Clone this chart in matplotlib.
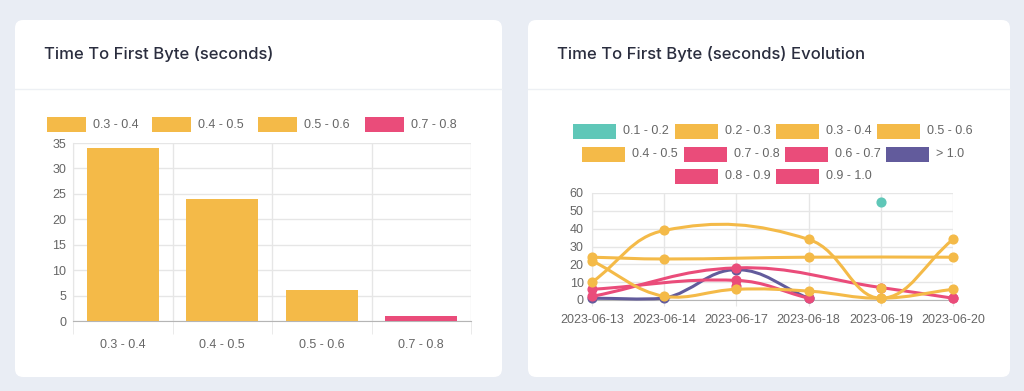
import matplotlib.pyplot as plt
from matplotlib.patches import FancyBboxPatch, Rectangle, PathPatch
from matplotlib.path import Path
import numpy as np

plt.rcParams.update({'font.family': ['Liberation Sans', 'DejaVu Sans']})

# Data
bar_labels = ['0.3 - 0.4', '0.4 - 0.5', '0.5 - 0.6', '0.7 - 0.8']
bar_values = [34, 24, 6, 1]

dates = ['2023-06-13', '2023-06-14', '2023-06-17', '2023-06-18', '2023-06-19', '2023-06-20']
series_names = ['0.1 - 0.2', '0.2 - 0.3', '0.3 - 0.4', '0.5 - 0.6', '0.4 - 0.5',
                '0.7 - 0.8', '0.6 - 0.7', '> 1.0', '0.8 - 0.9', '0.9 - 1.0']
s_01_02 = [None, None, None, None, 55, None]
s_02_03 = [10, 39, None, 34, 1, 34]
s_03_04 = [24, 23, None, 24, None, 24]
s_05_06 = [22, 2, 6, 5, 1, 6]
s_04_05 = [None, None, None, None, 7, None]
s_07_08 = [6, None, 11, 1, None, None]
s_06_07 = [2, None, 18, None, 7, 1]
s_gt_10 = [1, 1, 17, 1, None, None]
s_08_09 = [None, None, 8, None, None, None]
s_09_10 = [None, None, None, None, None, 1]
series_values = [s_01_02, s_02_03, s_03_04, s_05_06, s_04_05,
                 s_07_08, s_06_07, s_gt_10, s_08_09, s_09_10]

YELLOW = '#F4BA48'
PINK = '#EA4C7A'
TEAL = '#5FC7B8'
PURPLE = '#625B9C'
bar_colors = [YELLOW, YELLOW, YELLOW, PINK]
series_colors = [TEAL, YELLOW, YELLOW, YELLOW, YELLOW, PINK, PINK, PURPLE, PINK, PINK]

W, H = 1024, 391
TICK = '#666666'
GRID = '#e6e6e6'


def rect(x0, y0, x1, y1):
    return [x0 / W, 1 - y1 / H, (x1 - x0) / W, (y1 - y0) / H]


def fx(x):
    return x / W


def fy(y):
    return 1 - y / H


def smooth_path(ax, xs, ys, t=0.4):
    # chart.js style bezier through the points (spanGaps)
    trans = ax.transData
    pts = trans.transform(np.column_stack([xs, ys]))
    bb = ax.bbox
    n = len(pts)
    cps = []
    for i in range(n):
        p1 = pts[i]
        p0 = pts[i - 1] if i > 0 else p1
        p2 = pts[i + 1] if i < n - 1 else p1
        d01 = np.hypot(*(p1 - p0))
        d12 = np.hypot(*(p2 - p1))
        tot = d01 + d12
        s01 = d01 / tot if tot else 0
        s12 = d12 / tot if tot else 0
        prev = p1 - t * s01 * (p2 - p0)
        nxt = p1 + t * s12 * (p2 - p0)
        for c in (prev, nxt):
            c[0] = min(max(c[0], bb.x0), bb.x1)
            c[1] = min(max(c[1], bb.y0), bb.y1)
        cps.append((prev, nxt))
    verts = [pts[0]]
    codes = [Path.MOVETO]
    for i in range(n - 1):
        verts += [cps[i][1], cps[i + 1][0], pts[i + 1]]
        codes += [Path.CURVE4] * 3
    verts = trans.inverted().transform(np.array(verts))
    return Path(verts, codes)


fig = plt.figure(figsize=(W / 100, H / 100), dpi=100)
fig.patch.set_facecolor('#E9EDF4')

# cards
for x0, x1 in [(15, 502), (528, 1010)]:
    card = FancyBboxPatch((fx(x0), fy(377)), fx(x1 - x0), (377 - 20) / H,
                          boxstyle='round,pad=0,rounding_size=0.008',
                          transform=fig.transFigure, facecolor='white',
                          edgecolor='none', mutation_aspect=W / H, zorder=-5)
    fig.patches.append(card)
    fig.add_artist(plt.Line2D([fx(x0), fx(x1)], [fy(89), fy(89)], color='#edf0f4',
                              lw=1, transform=fig.transFigure, zorder=-4))

fig.text(fx(44), fy(54), 'Time To First Byte (seconds)', fontsize=12, family='Inter',
         fontweight='medium', color='#2a2d3e', va='center')
fig.text(fx(557), fy(54), 'Time To First Byte (seconds) Evolution', fontsize=12, family='Inter',
         fontweight='medium', color='#2a2d3e', va='center')


def legend_item(x, y, w, color, label):
    fig.patches.append(Rectangle((fx(x), fy(y + 7.5)), w / W, 15 / H, transform=fig.transFigure,
                                 facecolor=color, edgecolor='none'))
    fig.text(fx(x + w + 7), fy(y), label, fontsize=9, color=TICK, va='center')


# ---- left: bar chart ----
ax1 = fig.add_axes(rect(73, 143, 471, 321))
ax1.patch.set_alpha(0)
x = np.arange(len(bar_values))
ax1.bar(x, bar_values, width=0.72, color=bar_colors, zorder=3)
ax1.set_xlim(-0.5, len(bar_values) - 0.5)
ax1.set_ylim(0, 35)
ax1.set_yticks(range(0, 36, 5))
ax1.set_xticks(x)
ax1.set_xticklabels(bar_labels)
ax1.set_xticks(np.arange(-0.5, len(bar_values)), minor=True)
ax1.tick_params(axis='x', which='major', length=0, pad=13, labelsize=9, labelcolor=TICK)
ax1.tick_params(axis='x', which='minor', length=9, color=GRID)
ax1.tick_params(axis='y', length=0, pad=5, labelsize=9, labelcolor=TICK)
ax1.grid(True, axis='y', color=GRID, lw=1, zorder=0)
ax1.grid(True, axis='x', which='minor', color=GRID, lw=1, zorder=0)
for s in ['top', 'right']:
    ax1.spines[s].set_visible(False)
ax1.spines['left'].set_color(GRID)
ax1.spines['bottom'].set_color('#b5b5b5')

bar_legend_x = [47, 152, 258, 365]
for lx, lab, col in zip(bar_legend_x, bar_labels, bar_colors):
    legend_item(lx, 124.5, 39, col, lab)

# ---- right: line chart ----
ax2 = fig.add_axes(rect(592, 193, 953, 300))
ax2.patch.set_alpha(0)
ax2.set_xlim(0, len(dates) - 1)
ax2.set_ylim(0, 60)
ax2.set_yticks(range(0, 61, 10))
ax2.set_xticks(range(len(dates)))
ax2.set_xticklabels(dates)
ax2.tick_params(axis='x', length=4, color=GRID, pad=6, labelsize=9, labelcolor=TICK)
ax2.tick_params(axis='y', length=0, pad=6, labelsize=9, labelcolor=TICK)
ax2.grid(True, color=GRID, lw=1, zorder=0)
for s in ['top', 'right']:
    ax2.spines[s].set_visible(False)
ax2.spines['left'].set_color(GRID)
ax2.spines['bottom'].set_color('#b5b5b5')

n = len(series_values)
for k in range(n - 1, -1, -1):
    vals = series_values[k]
    xs = [i for i, v in enumerate(vals) if v is not None]
    ys = [v for v in vals if v is not None]
    z = 3 + (n - k)
    if len(xs) > 1:
        path = smooth_path(ax2, xs, ys)
        ax2.add_patch(PathPatch(path, facecolor='none', edgecolor=series_colors[k],
                                lw=2.2, zorder=z, clip_on=False))
    ax2.plot(xs, ys, 'o', color=series_colors[k], ms=6.3, zorder=z, clip_on=False)

rows = [
    [(573, 43), (675, 43), (776, 43), (877, 43)],
    [(582, 43), (684, 43), (785, 43), (886, 43)],
    [(675, 43), (776, 43)],
]
row_y = [131.5, 154, 176.5]
k = 0
for ry, row in zip(row_y, rows):
    for lx, lw in row:
        legend_item(lx, ry, lw, series_colors[k], series_names[k])
        k += 1

fig.savefig('out.png', dpi=100, facecolor=fig.get_facecolor())
